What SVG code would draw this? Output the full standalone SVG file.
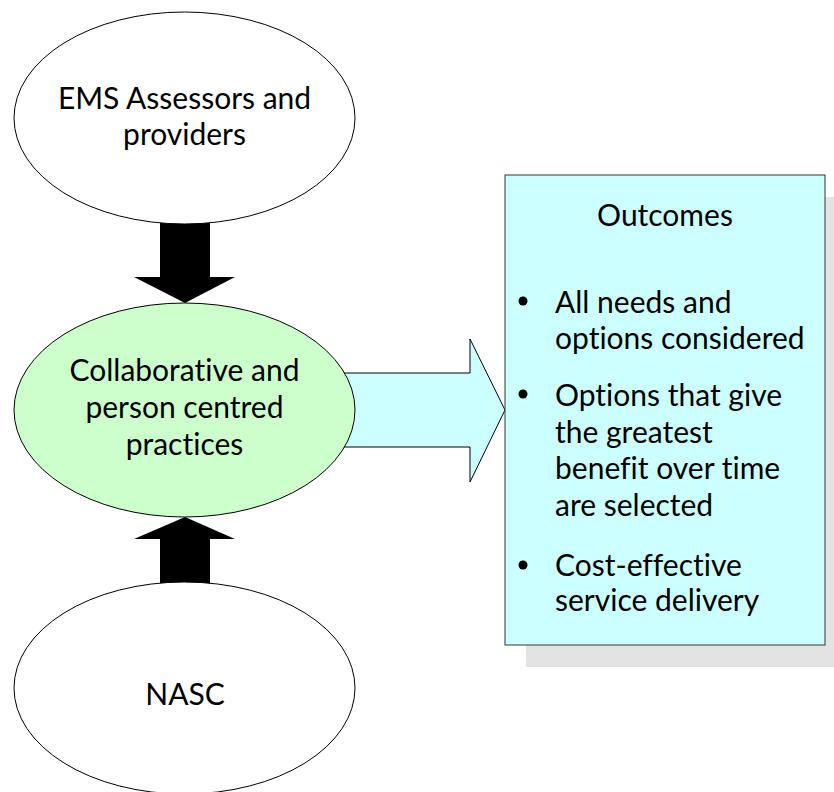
<svg xmlns="http://www.w3.org/2000/svg" width="834" height="792" viewBox="0 0 834 792">
<style>
text{font-family:Lato,"Open Sans",sans-serif;font-size:30px;fill:#000;font-variant-ligatures:none}
.c{text-anchor:middle}
.ell{stroke:#000;stroke-width:1}
.blk{fill:#000;stroke:none}
</style>
<rect width="834" height="792" fill="#fff"/>
<g id="connectors">
<path class="blk" d="M160,220 L210,220 L210,277 L235,277 L185,303 L134,277 L160,277 Z"/>
<path class="blk" d="M160,586 L210,586 L210,539 L235,539 L185,517 L134,539 L160,539 Z"/>
<path d="M340,373 L470,373 L470,339 L505,410 L470,482 L470,447 L340,447 Z" fill="#ccffff" stroke="#000" stroke-width="1"/>
</g>
<g id="ems">
<ellipse class="ell" cx="184.5" cy="118" rx="170.5" ry="106" fill="#fff"/>
<text class="c" x="184.5" y="109">EMS Assessors and</text>
<text class="c" x="184.5" y="145">providers</text>
</g>
<g id="collab">
<ellipse class="ell" cx="184.5" cy="410" rx="170.5" ry="107" fill="#ccffcc"/>
<text class="c" x="184.5" y="381">Collaborative and</text>
<text class="c" x="184.5" y="418">person centred</text>
<text class="c" x="184.5" y="455">practices</text>
</g>
<g id="nasc">
<ellipse class="ell" cx="184.5" cy="688" rx="170.5" ry="106" fill="#fff"/>
<text class="c" x="185" y="705">NASC</text>
</g>
<g id="outcomes">
<rect x="526" y="197" width="320" height="470" fill="#e3e3e3"/>
<rect x="505" y="175" width="320" height="470" fill="#ccffff" stroke="#333" stroke-width="1"/>
<text class="c" x="665" y="226">Outcomes</text>
<circle cx="523" cy="301" r="4.5"/>
<text x="555" y="313">All needs and</text>
<text x="555" y="349">options considered</text>
<circle cx="523" cy="394" r="4.5"/>
<text x="555" y="406">Options that give</text>
<text x="555" y="443">the greatest</text>
<text x="555" y="479">benefit over time</text>
<text x="555" y="516">are selected</text>
<circle cx="523" cy="565" r="4.5"/>
<text x="555" y="576">Cost-effective</text>
<text x="555" y="611">service delivery</text>
</g>
</svg>
